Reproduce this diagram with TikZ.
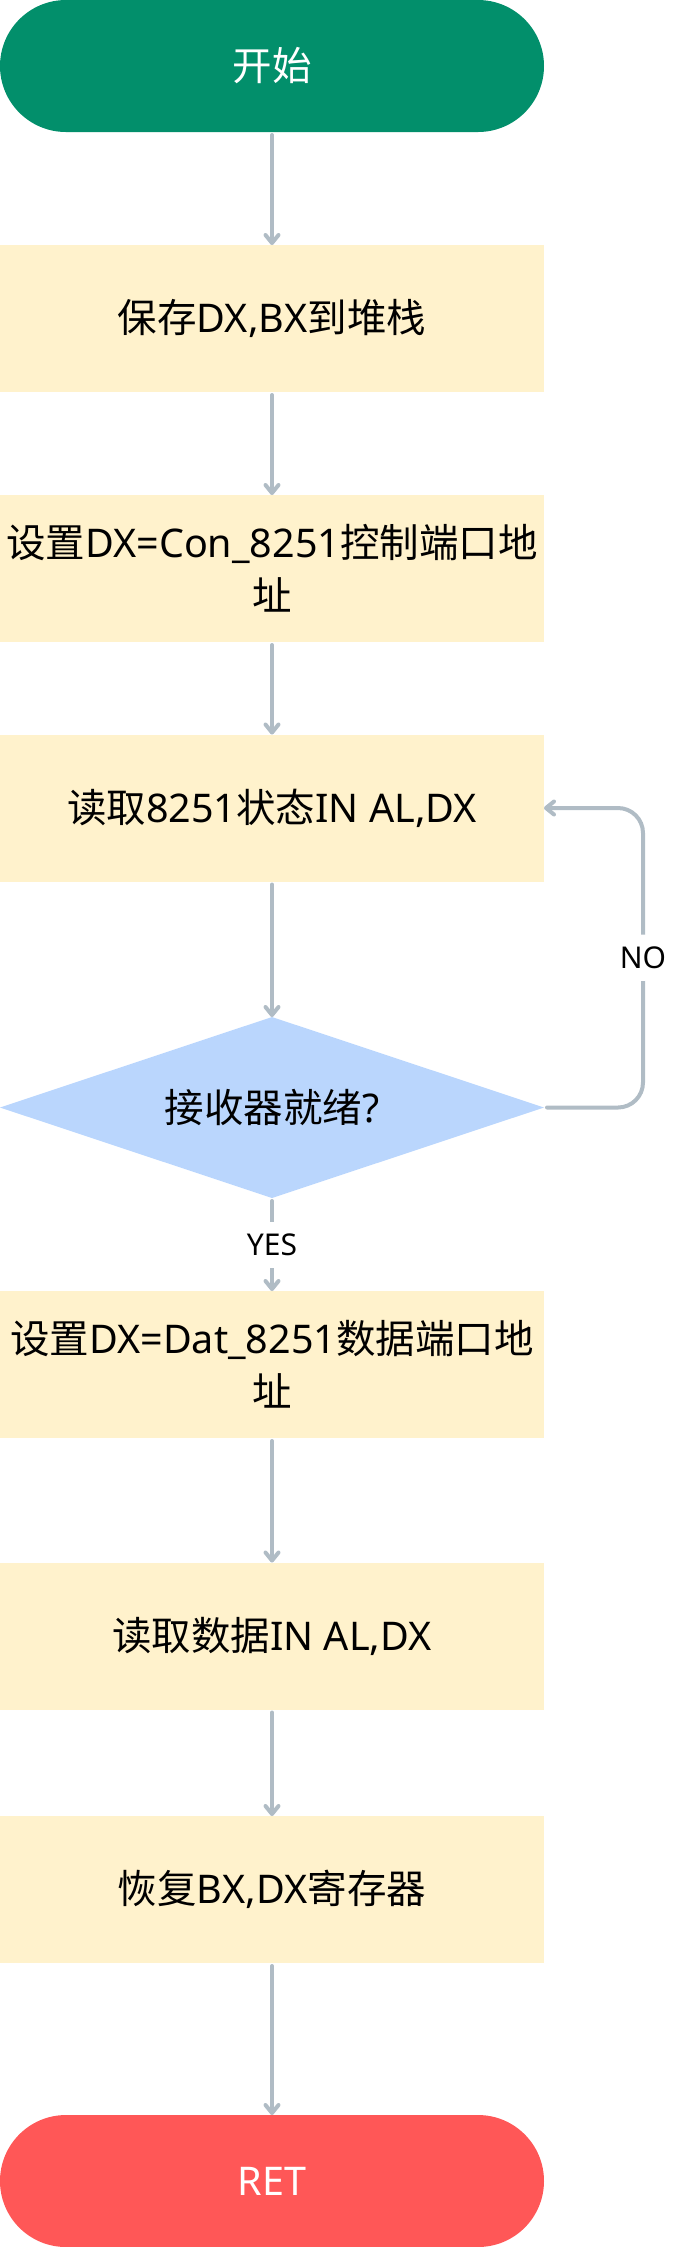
\documentclass[tikz,border=0pt]{standalone}
\usepackage{fontspec}
\newfontfamily\cjk{Noto Sans CJK SC}
\newfontfamily\lat{Noto Sans}
\usetikzlibrary{shapes.geometric,shapes.misc,arrows.meta}
\definecolor{termgreen}{RGB}{2,143,107}
\definecolor{boxyellow}{RGB}{255,242,204}
\definecolor{diablue}{RGB}{186,214,253}
\definecolor{termred}{RGB}{255,87,87}
\definecolor{arrowgray}{RGB}{176,188,197}
\begin{document}
\begin{tikzpicture}[x=1pt,y=-1pt,
  every node/.style={font=\cjk\fontsize{39.5}{53}\selectfont, outer sep=0pt, inner sep=0pt},
  term/.style={rounded rectangle, minimum width=544pt, minimum height=132pt, text=white},
  proc/.style={rectangle, fill=boxyellow, minimum width=544pt, minimum height=147pt, align=center},
  dec/.style={diamond, fill=diablue, aspect=3.0055, minimum width=544pt, minimum height=181pt},
  conn/.style={draw=arrowgray, line width=4pt, line cap=round, shorten <=3pt,
    -{Straight Barb[length=8pt,width=13pt,line width=4pt,round]}},
  lbl/.style={fill=white, font=\lat\fontsize{30}{35}\selectfont, inner xsep=4pt, inner ysep=12pt}]
\useasboundingbox (0,0) rectangle (678,2247);
\node[term, fill=termgreen] (start) at (272,66) {开始};
\node[proc] (b1) at (272,318.5) {保存{\lat DX,BX}到堆栈};
\node[proc] (b2) at (272,568.5) {设置{\lat DX=Con\_8251}控制端口地\\址};
\node[proc] (b3) at (272,808) {读取{\lat 8251}状态{\lat IN AL,DX}};
\node[dec] (dia) at (272,1107.5) {接收器就绪{\lat ?}};
\node[proc] (b4) at (272,1364.5) {设置{\lat DX=Dat\_8251}数据端口地\\址};
\node[proc] (b5) at (272,1636) {读取数据{\lat IN AL,DX}};
\node[proc] (b6) at (272,1889.5) {恢复{\lat BX,DX}寄存器};
\node[term, fill=termred] (ret) at (272,2181) {\lat RET};
\coordinate (loopx) at (643,0);
\draw[conn] (start.south) -- (b1.north);
\draw[conn] (b1.south) -- (b2.north);
\draw[conn] (b2.south) -- (b3.north);
\draw[conn] (b3.south) -- (dia.north);
\draw[conn] (dia.south) -- node[lbl]{YES} (b4.north);
\draw[conn] (b4.south) -- (b5.north);
\draw[conn] (b5.south) -- (b6.north);
\draw[conn] (b6.south) -- (ret.north);
\draw[conn, rounded corners=25pt] (dia.east) -- (dia.east -| loopx) -- node[lbl]{NO} (b3.east -| loopx) -- (b3.east);
\end{tikzpicture}
\end{document}
